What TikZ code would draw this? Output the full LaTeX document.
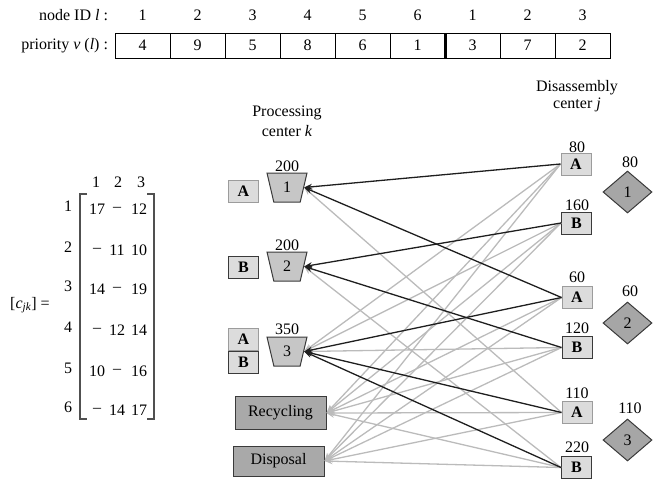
\documentclass[tikz,border=0pt]{standalone}
\usepackage{fontspec}
\setmainfont{Liberation Serif}[Ligatures=TeX]
\newfontfamily\labelfont{Liberation Serif}[Ligatures=TeX]
\usetikzlibrary{shapes.geometric,arrows.meta}

\definecolor{lightfill}{HTML}{DCDCDC}
\definecolor{procfill}{HTML}{C6C6C6}
\definecolor{sinkfill}{HTML}{A9A9A9}
\definecolor{demfill}{HTML}{A6A6A6}
\definecolor{paleedge}{HTML}{9C9C9C}
\definecolor{darkedge}{HTML}{3A3A3A}
\definecolor{altgray}{HTML}{BBBBBB}
\definecolor{pickblack}{HTML}{1E1E1E}
\definecolor{bracketgray}{HTML}{505050}

\tikzset{
  txt/.style={inner sep=0pt, outer sep=0pt},
  tcell/.style={draw=black, line width=0.9pt, minimum width=55pt, minimum height=25pt, inner sep=0pt, outer sep=0pt},
  itemA/.style={draw=paleedge, fill=lightfill, line width=1pt, minimum width=30pt, minimum height=22pt, inner sep=0pt, font=\labelfont\fontsize{16}{19}\selectfont\bfseries},
  itemB/.style={itemA, draw=darkedge},
  proc/.style={trapezium, trapezium left angle=101, trapezium right angle=101, trapezium stretches=true,
    draw=darkedge, fill=procfill, line width=1pt, minimum width=40pt, minimum height=29pt, inner sep=0pt},
  sink/.style={draw=darkedge, fill=sinkfill, line width=1pt, minimum width=91pt, minimum height=33pt, inner sep=0pt},
  demand/.style={diamond, aspect=1.2, draw=darkedge, fill=demfill, line width=1pt, minimum width=49pt, minimum height=42pt, inner sep=0pt},
  pick/.style={draw=pickblack, line width=1.3pt, -{Stealth[length=8pt,width=6pt]}},
  alt/.style={draw=altgray, line width=1.3pt, -{Stealth[length=8pt,width=6pt]}},
  bracket/.style={draw=bracketgray, line width=1.2pt}
}

\begin{document}
\begin{tikzpicture}[x=1pt, y=-1pt, font=\labelfont\fontsize{16}{19}\selectfont]
\useasboundingbox (0,0) rectangle (653,480);

% ---------- priority encoding ----------
\node[txt, anchor=east] (idlab) at (108,15) {node ID \textit{l} :};
\node[txt, anchor=east] (prlab) at (108,45.5) {priority \textit{v} (\textit{l}) :};
\foreach \i/\id/\v in {1/1/4, 2/2/9, 3/3/5, 4/4/8, 5/5/6, 6/6/1, 7/1/3, 8/2/7, 9/3/2} {
  \node[tcell] (cell\i) at ({115+55*(\i-0.5)},45.5) {\v};
  \node[txt] (id\i) at ({115+55*(\i-0.5)},15) {\id};
}
\draw[line width=3pt] (cell6.north east) -- (cell6.south east);

% ---------- cost matrix ----------
\node[txt] (cjk) at (30,305) {[\textit{c}\textsubscript{\textit{jk}}] =};
\foreach \k/\x in {1/96, 2/118, 3/141} {
  \node[txt] (hd\k) at (\x,182) {\k};
}
\foreach \r/\y/\a/\b/\c in {1/209/17/--/12, 2/250/--/11/10, 3/289/14/--/19,
                            4/330/--/12/14, 5/371/10/--/16, 6/410/--/14/17} {
  \node[txt] (rl\r) at (68,\y-3) {\r};
  \node[txt] (m\r a) at (97,\y) {\a};
  \node[txt] (m\r b) at (117,\y) {\b};
  \node[txt] (m\r c) at (139,\y) {\c};
}
\draw[bracket] (87,194) -- (80,194) -- (80,419) -- (87,419);
\draw[bracket] (147,194) -- (154,194) -- (154,419) -- (147,419);

% ---------- processing side ----------
\node[txt] (ph1) at (287,113) {Processing};
\node[txt] (ph2) at (287,131) {center \textit{k}};

\node[itemA] (lA1) at (243.5,191) {A};
\node[itemB] (lB2) at (243.5,267.5) {B};
\node[itemA] (lA3) at (243.5,339.5) {A};
\node[itemB] (lB3) at (243.5,362) {B};

\node[proc] (p1) at (287,187.5) {1};
\node[proc] (p2) at (287,266.5) {2};
\node[proc] (p3) at (287,351.5) {3};
\node[txt] (c1) at (287,166) {200};
\node[txt] (c2) at (287,245) {200};
\node[txt] (c3) at (287,329) {350};

\node[sink] (rec) at (280.5,413) {Recycling};
\node[sink, minimum height=30pt] (dis) at (278.5,461) {Disposal};

% ---------- disassembly side ----------
\node[txt] (dh1) at (577,88) {Disassembly};
\node[txt] (dh2) at (577,105) {center \textit{j}};

\node[itemA] (r1A) at (576,164) {A};
\node[itemB] (r1B) at (576.5,223) {B};
\node[itemA] (r2A) at (577,297.5) {A};
\node[itemB] (r2B) at (577,347.5) {B};
\node[itemA] (r3A) at (577,412.5) {A};
\node[itemB] (r3B) at (576.5,467.5) {B};

\node[txt] (q1A) at (577,147) {80};
\node[txt] (q1B) at (577,205) {160};
\node[txt] (q2A) at (577,277) {60};
\node[txt] (q2B) at (577,328) {120};
\node[txt] (q3A) at (577,393) {110};
\node[txt] (q3B) at (577,447) {220};

\node[demand] (d1) at (627.5,192) {1};
\node[demand] (d2) at (627.5,323) {2};
\node[demand] (d3) at (627.5,440) {3};
\node[txt] (s1) at (630,162) {80};
\node[txt] (s2) at (630,291) {60};
\node[txt] (s3) at (630,408) {110};

% ---------- candidate routes ----------
\foreach \src/\dst in {r1A/p3, r1A/rec, r1A/dis,
                       r1B/p3, r1B/rec, r1B/dis,
                       r2A/rec, r2A/dis,
                       r2B/p3, r2B/rec, r2B/dis,
                       r3A/p1, r3A/rec, r3A/dis,
                       r3B/p2, r3B/rec, r3B/dis} {
  \draw[alt] (\src.west) -- (\dst.east);
}

% ---------- selected routes ----------
\foreach \src/\dst in {r1A/p1, r2A/p1, r1B/p2, r2B/p2, r2A/p3, r3A/p3, r3B/p3} {
  \draw[pick] (\src.west) -- (\dst.east);
}
\end{tikzpicture}
\end{document}
